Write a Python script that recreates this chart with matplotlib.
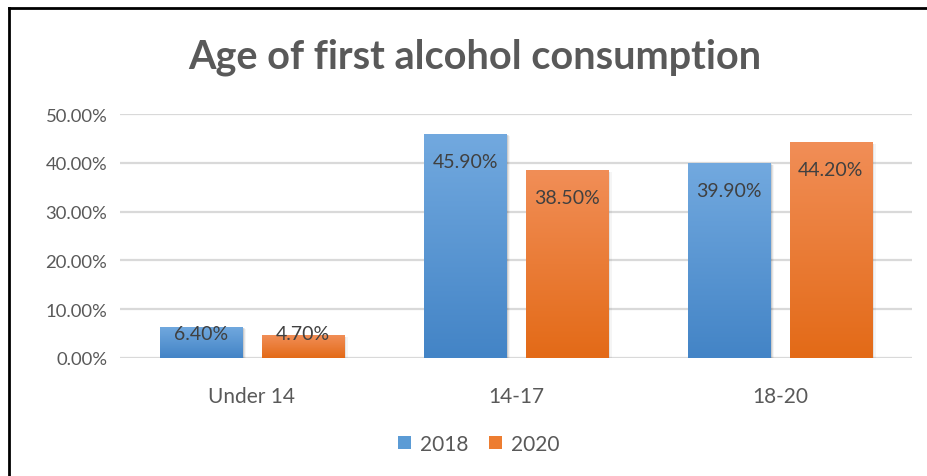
import matplotlib
matplotlib.use("Agg")
import matplotlib.pyplot as plt
import numpy as np
from matplotlib.patches import Rectangle, Patch
from matplotlib.lines import Line2D
from matplotlib.colors import LinearSegmentedColormap

plt.rcParams['font.family'] = ['Lato', 'DejaVu Sans']

title = "Age of first alcohol consumption"
categories = ["Under 14", "14-17", "18-20"]
series_names = ["2018", "2020"]
values_2018 = [6.40, 45.90, 39.90]
values_2020 = [4.70, 38.50, 44.20]
yticks = [0, 10, 20, 30, 40, 50]

W, H = 927, 477
fig = plt.figure(figsize=(W / 100, H / 100), dpi=100)
ax = fig.add_axes([120 / W, (H - 359) / H, 792 / W, 244 / H])

text_col = "#595959"
grid_col = "#d9d9d9"
bar_w = 0.311
offset = 0.192
series = [
    (values_2018, -offset, ("#72a9df", "#4384c6"), "#5b9bd5"),
    (values_2020, offset, ("#f18e57", "#e36a17"), "#ed7d31"),
]

x = np.arange(len(categories))

for yt in yticks:
    ax.axhline(yt, color=grid_col, lw=1.6, zorder=0)

grad = np.linspace(0, 1, 256).reshape(-1, 1)
for vals, off, (top_c, bot_c), base in series:
    cmap = LinearSegmentedColormap.from_list("g", [bot_c, top_c])
    for xi, v in zip(x, vals):
        x0 = xi + off - bar_w / 2
        # soft drop shadow to the right
        for k, a in enumerate([0.10, 0.07, 0.04]):
            dx = 0.005 * (k + 1)
            ax.add_patch(Rectangle((x0 + dx, -0.1 * (k + 1)), bar_w, v - 0.1,
                                   facecolor="#000000", alpha=a, lw=0, zorder=1))
        rect = Rectangle((x0, 0), bar_w, v, facecolor=base, lw=0, zorder=2)
        ax.add_patch(rect)
        im = ax.imshow(grad, cmap=cmap, origin="lower", aspect="auto",
                       extent=(x0, x0 + bar_w, 0, v), zorder=3)
        im.set_clip_path(rect)
        label = f"{v:.2f}%"
        if v >= 10:
            ax.annotate(label, (xi + off, v), xytext=(0, -27), textcoords="offset pixels",
                        ha="center", va="center", fontsize=14, color="#404040", zorder=5)
        else:
            ax.annotate(label, (xi + off, 0), xytext=(0, 24), textcoords="offset pixels",
                        ha="center", va="center", fontsize=14, color="#404040", zorder=5)

ax.set_xlim(-0.5, len(categories) - 0.5)
ax.set_ylim(0, 50)
ax.set_xticks(x)
ax.set_xticklabels(categories)
ax.set_yticks(yticks)
ax.set_yticklabels([f"{t:.2f}%" for t in yticks])
ax.tick_params(length=0, colors=text_col)
ax.tick_params(axis="y", labelsize=13.3, pad=9)
ax.tick_params(axis="x", labelsize=15, pad=20)
for s in ax.spines.values():
    s.set_visible(False)
ax.patch.set_alpha(0)

fig.text(475 / W, 1 - 57 / H, title, ha="center", va="center",
         fontsize=28.5, fontweight="bold", color=text_col)

handles = [Patch(facecolor="#5b9bd5", label=series_names[0]),
           Patch(facecolor="#ed7d31", label=series_names[1])]
fig.legend(handles=handles, loc="center", bbox_to_anchor=(479 / W, 1 - 445 / H),
           ncol=2, frameon=False, fontsize=15, labelcolor=text_col,
           handlelength=0.6, handleheight=0.6, handletextpad=0.45, columnspacing=1.0)

# outer frame
fig.add_artist(Line2D([8.5 / W, 8.5 / W], [0, 1 - 8.5 / H], transform=fig.transFigure,
                      color="black", lw=2))
fig.add_artist(Line2D([8.5 / W, 1], [1 - 8.5 / H, 1 - 8.5 / H], transform=fig.transFigure,
                      color="black", lw=2))

fig.savefig("out.png", dpi=100)
